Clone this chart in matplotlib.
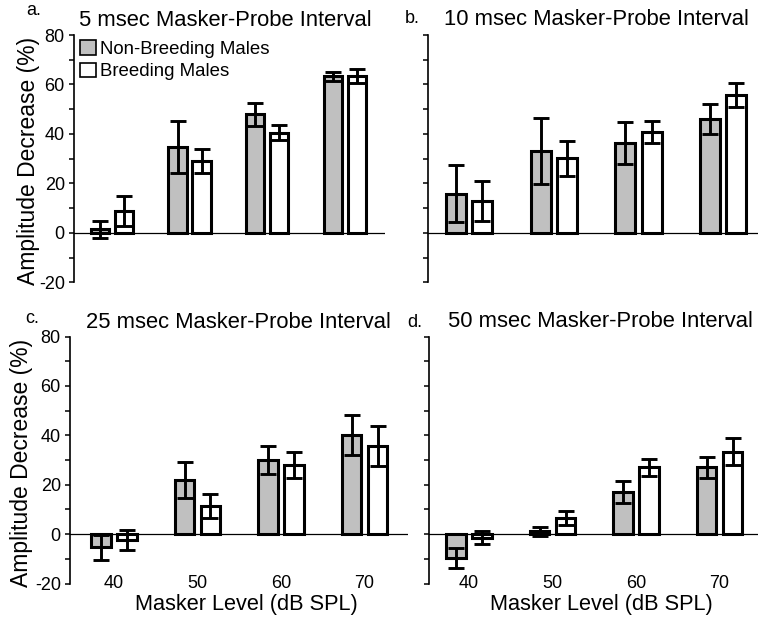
import numpy as np
import matplotlib
matplotlib.use('Agg')
import matplotlib.pyplot as plt
from matplotlib.patches import Patch

plt.rcParams['font.family'] = ['Liberation Sans', 'DejaVu Sans']

# masker levels (dB SPL)
levels = ['40', '50', '60', '70']
group_names = ['Non-Breeding Males', 'Breeding Males']

# a. 5 msec
nb_5 = [1.5, 34.7, 47.9, 63.3]
nb_5_err = [3.5, 10.6, 4.8, 1.8]
br_5 = [8.9, 29.1, 40.6, 63.4]
br_5_err = [5.9, 5.0, 3.0, 2.8]
# b. 10 msec
nb_10 = [15.9, 33.1, 36.4, 46.2]
nb_10_err = [11.4, 13.5, 8.6, 6.0]
br_10 = [12.8, 30.2, 40.7, 55.8]
br_10_err = [8.1, 7.0, 4.4, 5.0]
# c. 25 msec
nb_25 = [-5.4, 21.9, 30.0, 40.1]
nb_25_err = [5.1, 7.4, 5.8, 8.0]
br_25 = [-2.4, 11.4, 28.0, 35.7]
br_25_err = [4.2, 4.8, 5.3, 8.2]
# d. 50 msec
nb_50 = [-9.6, 1.2, 16.9, 27.0]
nb_50_err = [4.0, 1.8, 4.4, 4.2]
br_50 = [-1.5, 6.4, 27.0, 33.4]
br_50_err = [2.7, 2.9, 3.6, 5.5]

W, H = 758, 620
fig = plt.figure(figsize=(W/100, H/100), dpi=100)

def px_axes(left, right, top, bottom):
    return fig.add_axes([left/W, 1-bottom/H, (right-left)/W, (bottom-top)/H])

# panel setup: box = (left, right, top, bottom) in pixels
panels = [
    dict(box=(74, 385, 35, 282.5), xlim=(-0.49, 3.52), nb=nb_5, nbe=nb_5_err, br=br_5, bre=br_5_err,
         title='5 msec Masker-Probe Interval', letter='a.', tpos=(225, 26), lpos=(26, 15),
         ylab=True, xlab=False, ylab_x=40),
    dict(box=(428, 758, 35, 282.5), xlim=(-0.484, 3.41), nb=nb_10, nbe=nb_10_err, br=br_10, bre=br_10_err,
         title='10 msec Masker-Probe Interval', letter='b.', tpos=(596, 25), lpos=(405, 23),
         ylab=False, xlab=False),
    dict(box=(70, 408, 336.5, 583.5), xlim=(-0.526, 3.52), nb=nb_25, nbe=nb_25_err, br=br_25, bre=br_25_err,
         title='25 msec Masker-Probe Interval', letter='c.', tpos=(238, 328), lpos=(25, 323),
         ylab=True, xlab=True, ylab_x=33, xlab_x=246),
    dict(box=(429, 758, 336.5, 583.5), xlim=(-0.48, 3.46), nb=nb_50, nbe=nb_50_err, br=br_50, bre=br_50_err,
         title='50 msec Masker-Probe Interval', letter='d.', tpos=(600, 327), lpos=(407, 327),
         ylab=False, xlab=True, xlab_x=601),
]

x = np.arange(len(levels))
bw = 0.235
off = 0.155
for p in panels:
    ax = px_axes(*p['box'])
    ax.bar(x - off, p['nb'], bw, color='#c0c0c0', edgecolor='black', linewidth=2.2, zorder=2)
    ax.bar(x + off, p['br'], bw, color='white', edgecolor='black', linewidth=2.2, zorder=2)
    ax.errorbar(x - off, p['nb'], yerr=p['nbe'], fmt='none', ecolor='black',
                elinewidth=2.1, capsize=6, capthick=2.1, zorder=3)
    ax.errorbar(x + off, p['br'], yerr=p['bre'], fmt='none', ecolor='black',
                elinewidth=2.1, capsize=6, capthick=2.1, zorder=3)
    ax.axhline(0, color='black', lw=0.9, zorder=1)
    ax.set_xlim(*p['xlim'])
    ax.set_ylim(-20, 80)
    for s in ['top', 'right', 'bottom']:
        ax.spines[s].set_visible(False)
    ax.spines['left'].set_linewidth(1.2)
    ax.patch.set_alpha(0)
    ax.set_yticks(range(-20, 81, 20))
    ax.set_yticks(range(-10, 71, 20), minor=True)
    ax.tick_params(axis='y', which='both', length=3.6, width=1.1, direction='out', pad=3,
                   labelsize=13, colors='black')
    ax.set_xticks(x)
    ax.tick_params(axis='x', length=0, pad=-6, labelsize=13)
    if p['xlab']:
        ax.set_xticklabels(levels)
        fig.text(p['xlab_x']/W, 1-610/H, 'Masker Level (dB SPL)', ha='center', va='baseline', fontsize=15.7)
    else:
        ax.set_xticklabels([])
    if p['ylab']:
        ax.set_yticklabels(['-20', '0', '20', '40', '60', '80'])
        ax.set_ylabel('Amplitude Decrease (%)', fontsize=16.5)
        ax.yaxis.set_label_coords((p['ylab_x'] - p['box'][0]) / (p['box'][1]-p['box'][0]), 0.49)
    else:
        ax.set_yticklabels([])
    if p['letter'] == 'a.':
        handles = [Patch(facecolor='#c0c0c0', edgecolor='black', linewidth=1.2),
                   Patch(facecolor='white', edgecolor='black', linewidth=1.2)]
        ax.legend(handles, group_names, loc='upper left', bbox_to_anchor=(80/W, 1-40/H),
                  bbox_transform=fig.transFigure, frameon=False, fontsize=13.4,
                  handlelength=0.85, handleheight=0.85, handletextpad=0.25,
                  labelspacing=0.25, borderpad=0, borderaxespad=0)
    fig.text(p['tpos'][0]/W, 1-p['tpos'][1]/H, p['title'], ha='center', va='baseline', fontsize=15.8)
    fig.text(p['lpos'][0]/W, 1-p['lpos'][1]/H, p['letter'], ha='left', va='baseline', fontsize=13)

fig.savefig('out.png', dpi=100)
